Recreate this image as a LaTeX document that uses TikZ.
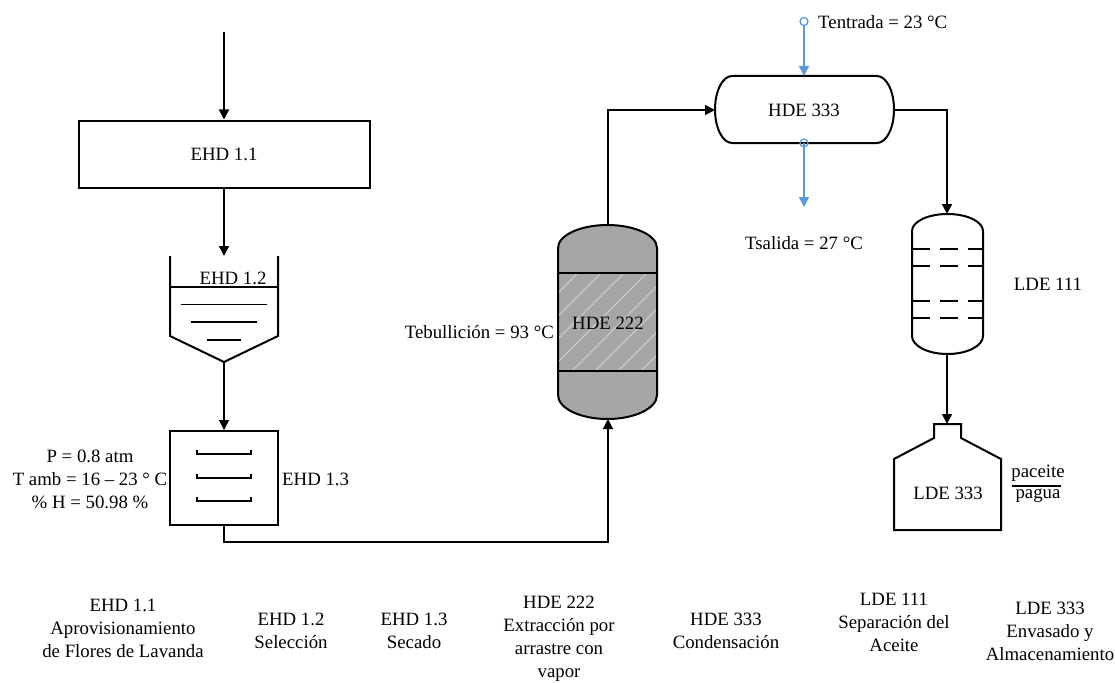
\documentclass[tikz,border=0pt]{standalone}
\usepackage{fontspec}
\setmainfont{Liberation Serif}
\usetikzlibrary{arrows.meta}
\tikzset{
  flow/.style={line width=1.4pt, -{Triangle[length=10pt,width=10pt]}},
  pipe/.style={line width=1.4pt},
  utility/.style={line width=1.6pt, draw=blueline, -{Triangle[length=10pt,width=10pt]}},
  port/.style={circle, draw=blueline, line width=1.3pt, fill=white, inner sep=0pt, minimum size=8pt},
  equip/.style={line width=2pt},
  tag/.style={inner sep=0pt, align=center, font=\fontsize{18.8}{23}\selectfont}
}
\definecolor{blueline}{HTML}{5B9BD5}
\definecolor{packing}{HTML}{A6A6A6}
\begin{document}
\begin{tikzpicture}[x=1pt, y=-1pt]
  \useasboundingbox (0,0) rectangle (1115,682);

  % left branch
  \coordinate (feed) at (224,32);
  \node[equip, draw, minimum width=291pt, minimum height=67pt, tag] (box11) at (224,154) {EHD 1.1};

  \coordinate (hopperin) at (224,256);
  \coordinate (hopperout) at (224,362);
  \draw[equip] (170,256) -- (170,336) -- (hopperout) -- (278,336) -- (278,256);
  \draw[pipe] (170,287) -- (278,287);
  \draw[pipe] (181,304.5) -- (267,304.5)   (191,322) -- (257,322)   (207,340) -- (241,340);
  \node[tag] (tag12) at (233,278) {EHD 1.2};

  \node[equip, draw, minimum width=108pt, minimum height=94pt] (box13) at (224,478) {};
  \foreach \y in {454,478,501}
    \draw[equip] (197,\y-4) -- (197,\y) -- (251,\y) -- (251,\y-4);
  \node[tag, anchor=west] (tag13) at (282,479) {EHD 1.3};
  \node[tag] (cond13) at (90,479) {P = 0.8 atm\\T amb = 16 -- 23 ° C\\\% H = 50.98 \%};

  % steam column
  \filldraw[equip, fill=packing] (558,248) arc[start angle=180, end angle=0, x radius=49.5pt, y radius=23pt]
    -- (657,395) arc[start angle=0, end angle=-180, x radius=49.5pt, y radius=24pt] -- cycle;
  \begin{scope}
    \clip (558,273) rectangle (657,371);
    \foreach \s in {-5,-4,...,6}
      \draw[white!50!packing, line width=0.8pt] (540+23*\s,380) -- (540+23*\s+120,260);
  \end{scope}
  \draw[equip] (558,248) -- (558,395)   (657,248) -- (657,395);
  \draw[equip] (558,273) -- (657,273)   (558,371) -- (657,371);
  \coordinate (coltop) at (608,225);
  \coordinate (colbot) at (608,419);
  \node[tag] (tag222) at (608,323) {HDE 222};
  \node[tag, anchor=east] (tebul) at (554,332) {Tebullición = 93 °C};

  % condenser
  \draw[equip] (732,76) -- (877,76) arc[start angle=90, end angle=-90, x radius=17pt, y radius=33.5pt]
    -- (732,143) arc[start angle=270, end angle=90, x radius=17pt, y radius=33.5pt] -- cycle;
  \coordinate (condin) at (715,110);
  \coordinate (condout) at (894,110);
  \coordinate (condtop) at (804,76);
  \coordinate (bluend) at (804,207);
  \node[tag] (tag333) at (804,110) {HDE 333};
  \node[port] (portin) at (804,21.5) {};
  \node[tag, anchor=west] (tent) at (818,22) {Tentrada = 23 °C};
  \node[tag] (tsal) at (804,243) {Tsalida = 27 °C};

  % separator
  \draw[equip] (912,231) arc[start angle=180, end angle=0, x radius=35.5pt, y radius=17pt]
    -- (983,336) arc[start angle=0, end angle=-180, x radius=35.5pt, y radius=18pt] -- cycle;
  \foreach \y in {249,266,301,318}
    \draw[equip] (912,\y) -- (930,\y)   (940,\y) -- (958,\y)   (968,\y) -- (983,\y);
  \coordinate (septop) at (947,214);
  \coordinate (sepbot) at (947,354);
  \node[tag] (tag111) at (1048,284) {LDE 111};

  % bottle
  \draw[equip] (894,530) -- (894,459) -- (934,438) -- (934,424) -- (961,424) -- (961,438) -- (1001,459) -- (1001,530) -- cycle;
  \coordinate (bottle) at (947,424);
  \node[tag] (tag3b) at (948,493) {LDE 333};
  \node[tag] (pac) at (1038,473) {paceite};
  \node[tag] (pag) at (1038,496) {pagua};
  \draw[pipe] (1012,486) -- (1061,486);

  % connections
  \draw[flow] (feed) -- (box11.north);
  \draw[flow] (box11.south) -- (hopperin);
  \draw[flow] (hopperout) -- (box13.north);
  \draw[flow] (box13.south) -- (224,542) -- (608,542) -- (colbot);
  \draw[flow] (coltop) -- (608,110) -- (condin);
  \draw[flow] (condout) -- (947,110) -- (septop);
  \draw[flow] (sepbot) -- (bottle);
  \draw[utility] (portin) -- (condtop);
  \draw[utility] (804,143) -- (bluend);
  \node[port, fill=none] (portout) at (804,143) {};

  % captions
  \node[tag] (cap11) at (123,628) {EHD 1.1\\Aprovisionamiento\\de Flores de Lavanda};
  \node[tag] (cap12) at (291,631) {EHD 1.2\\Selección};
  \node[tag] (cap13) at (414,631) {EHD 1.3\\Secado};
  \node[tag] (cap222) at (559,639) {HDE 222\\Extracción por\\arrastre con\\vapor};
  \node[tag] (cap333) at (726,631) {HDE 333\\Condensación};
  \node[tag] (cap111) at (894,622) {LDE 111\\Separación del\\Aceite};
  \node[tag] (cap3b) at (1050,631) {LDE 333\\Envasado y\\Almacenamiento};
\end{tikzpicture}
\end{document}
